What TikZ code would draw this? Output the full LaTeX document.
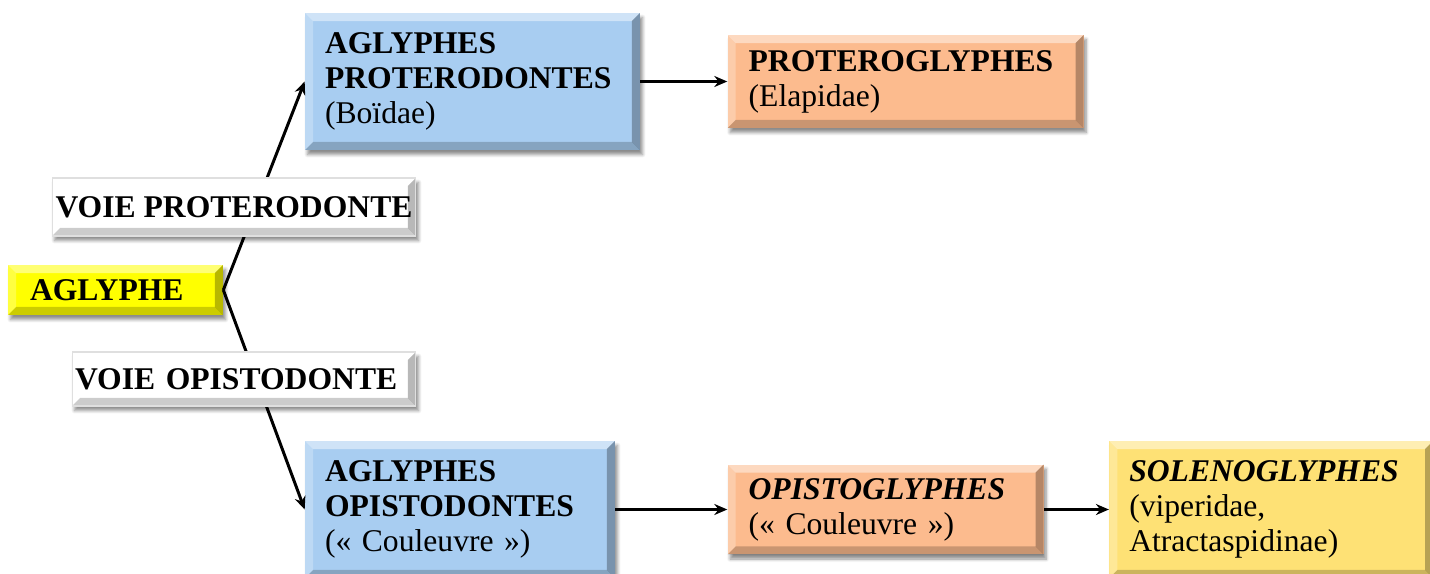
\documentclass[tikz,border=0pt]{standalone}
\usepackage{fontspec}
\setmainfont{Liberation Serif}
\usepackage{tikz}
\usetikzlibrary{positioning,arrows.meta,shadows.blur}

\definecolor{glyYellow}{HTML}{FFFF00}
\definecolor{glyBlue}{HTML}{A8CDF1}
\definecolor{glyPeach}{HTML}{FCBB8E}
\definecolor{glyGold}{HTML}{FEE175}
\newcommand{\bevw}{0.16cm}

\begin{document}
\begin{tikzpicture}[x = 0.02cm, y = -0.02cm, font = \fontsize{18}{20}\selectfont,
  gbox/.style = {shape = rectangle, inner ysep = 0pt, align = left,
    blur shadow = {shadow xshift = 0.05cm, shadow yshift = -0.09cm, shadow blur steps = 6, shadow opacity = 45},
    path picture = {
      \fill[white, opacity = .45] (path picture bounding box.north west) -- (path picture bounding box.north east)
        -- ([xshift = -\bevw, yshift = -\bevw]path picture bounding box.north east) -- ([xshift = \bevw, yshift = -\bevw]path picture bounding box.north west) -- cycle;
      \fill[white, opacity = .25] (path picture bounding box.north west) -- ([xshift = \bevw, yshift = -\bevw]path picture bounding box.north west)
        -- ([xshift = \bevw, yshift = \bevw]path picture bounding box.south west) -- (path picture bounding box.south west) -- cycle;
      \fill[black, opacity = .28] (path picture bounding box.north east) -- (path picture bounding box.south east)
        -- ([xshift = -\bevw, yshift = \bevw]path picture bounding box.south east) -- ([xshift = -\bevw, yshift = -\bevw]path picture bounding box.north east) -- cycle;
      \fill[black, opacity = .2] (path picture bounding box.south west) -- (path picture bounding box.south east)
        -- ([xshift = -\bevw, yshift = \bevw]path picture bounding box.south east) -- ([xshift = \bevw, yshift = \bevw]path picture bounding box.south west) -- cycle;
    }},
  wbox/.style = {gbox, fill = white, draw = gray!25, line width = 0.6pt},
  link/.style = {line width = 1.7pt, -{Stealth[length = 0.26cm, width = 0.22cm]}}]
\useasboundingbox (0,0) rectangle (1430,574);

\node[gbox, fill = glyYellow, text width = 3.42cm, inner xsep = 0.44cm, minimum height = 1cm] (aglyphe) at (115.5,290) {\textbf{AGLYPHE}};
\node[gbox, fill = glyBlue, text width = 5.9cm, inner xsep = 0.4cm, minimum height = 2.74cm] (protAgl) at (472.5,81.5)
  {\textbf{AGLYPHES}\\\textbf{PROTERODONTES}\\(Boïdae)};
\node[gbox, fill = glyPeach, text width = 6.28cm, inner xsep = 0.42cm, minimum height = 1.86cm, right = 1.74cm of protAgl] (protGly)
  {\textbf{PROTEROGLYPHES}\\(Elapidae)};
\node[gbox, fill = glyBlue, text width = 5.4cm, inner xsep = 0.4cm, minimum height = 2.74cm] (opisAgl) at (460,509.5)
  {\textbf{AGLYPHES}\\\textbf{OPISTODONTES}\\(« Couleuvre »)};
\node[gbox, fill = glyPeach, text width = 5.48cm, inner xsep = 0.42cm, minimum height = 1.8cm, right = 2.24cm of opisAgl] (opisGly)
  {\textbf{\textit{OPISTOGLYPHES}}\\(« Couleuvre »)};
\node[gbox, fill = glyGold, text width = 5.68cm, inner xsep = 0.4cm, minimum height = 2.74cm, right = 1.3cm of opisGly] (soleGly)
  {\textbf{\textit{SOLENOGLYPHES}}\\(viperidae,\\Atractaspidinae)};

\draw[link] (aglyphe.east) -- (protAgl.west);
\draw[link] (aglyphe.east) -- (opisAgl.west);
\draw[link] (protAgl) -- (protGly);
\draw[link] (opisAgl) -- (opisGly);
\draw[link] (opisGly) -- (soleGly);

\node[wbox, minimum width = 7.28cm, minimum height = 1.16cm, inner xsep = 0pt, align = center] (voieProt) at (234,207)
  {\textbf{VOIE PROTERODONTE}};
\node[wbox, text width = 6.76cm, inner xsep = 0.06cm, minimum height = 1.08cm] (voieOpis) at (244,379)
  {\textbf{VOIE OPISTODONTE}};
\end{tikzpicture}
\end{document}
